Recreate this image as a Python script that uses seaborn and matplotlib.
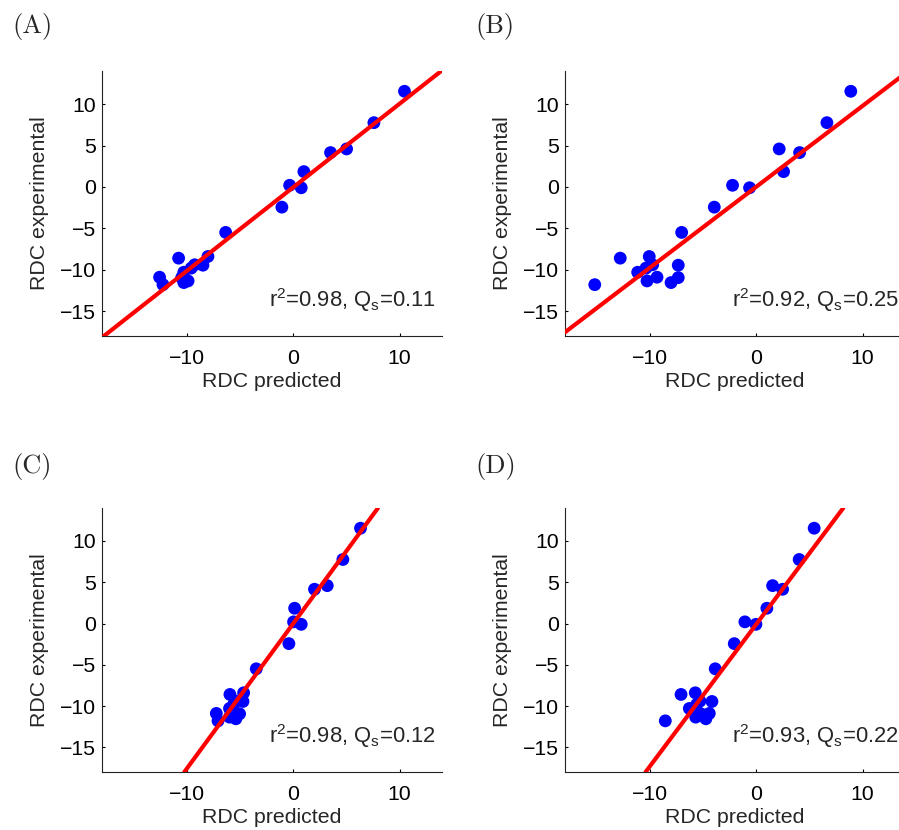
import numpy as np
import pandas as pd
import matplotlib
matplotlib.use("Agg")
import matplotlib.pyplot as plt
import seaborn as sns

# Experimental RDCs (Hz), shared by all four fits
rdc_exp = [11.55, 7.76, 4.59, 4.15, 1.85, 0.2, -0.1, -2.44, -5.49, -8.4,
           -8.6, -9.4, -9.45, -9.8, -10.3, -10.9, -10.95, -11.35, -11.55, -11.8]

# Predicted RDCs for each model
pred_a = [10.47, 7.59, 5.02, 3.51, 1.0, -0.34, 0.75, -1.07, -6.36, -8.03,
          -10.79, -9.28, -8.5, -9.6, -10.3, -12.58, -10.5, -9.9, -10.3, -12.26]
pred_b = [8.9, 6.65, 2.16, 4.08, 2.57, -2.23, -0.63, -3.95, -7.02, -10.07,
          -12.8, -9.75, -7.34, -10.38, -11.16, -9.34, -7.34, -10.28, -8.02, -15.2]
pred_c = [6.33, 4.67, 3.2, 2.0, 0.13, 0.03, 0.75, -0.41, -3.48, -4.67,
          -5.96, -5.4, -4.73, -5.6, -6.0, -7.24, -5.05, -6.0, -5.4, -7.08]
pred_d = [5.45, 4.04, 1.54, 2.48, 1.0, -1.07, -0.03, -2.07, -3.86, -5.74,
          -7.08, -5.3, -4.17, -5.6, -6.3, -4.42, -5.2, -5.7, -4.74, -8.56]

panels = ["(A)", "(B)", "(C)", "(D)"]
fit_slope = [1.008, 0.976, 1.756, 1.72]
fit_intercept = [-0.04, 0.02, 0.0, -0.09]
r_squared = ["0.98", "0.92", "0.98", "0.93"]
q_factor = ["0.11", "0.25", "0.12", "0.22"]

x_ticks = [-10, 0, 10]
y_ticks = [-15, -10, -5, 0, 5, 10]

df = pd.concat(
    [pd.DataFrame({"panel": p, "pred": x, "exp": rdc_exp})
     for p, x in zip(panels, [pred_a, pred_b, pred_c, pred_d])],
    ignore_index=True,
)

sns.set_style("ticks")
plt.rcParams["font.family"] = ["Liberation Sans", "DejaVu Sans"]
plt.rcParams["mathtext.fontset"] = "custom"
plt.rcParams["mathtext.rm"] = "Liberation Sans"
plt.rcParams["mathtext.it"] = "Liberation Sans:italic"
plt.rcParams["mathtext.bf"] = "Liberation Sans:bold"
plt.rcParams["axes.unicode_minus"] = True

FS = 15.3
W, H = 899, 830
fig = plt.figure(figsize=(W / 100, H / 100), dpi=100)

# axes boxes in pixels: left, top, right, bottom
boxes = [(102, 71, 442, 336), (565, 71, 905, 336),
         (102, 508, 442, 772), (565, 508, 905, 772)]
label_pos = [(12, 33), (475, 33), (12, 473), (475, 473)]

for i, p in enumerate(panels):
    l, t, r, b = boxes[i]
    ax = fig.add_axes([l / W, 1 - b / H, (r - l) / W, (b - t) / H])
    sub = df[df["panel"] == p]
    sns.scatterplot(data=sub, x="pred", y="exp", ax=ax, color=(0, 0, 1),
                    s=85, linewidth=0, edgecolor="none", zorder=2)
    ax.axline((0, fit_intercept[i]), slope=fit_slope[i], color=(1, 0, 0),
              lw=3.0, zorder=3)
    ax.set_xlim(-18, 14)
    ax.set_ylim(-18, 14)
    ax.set_xticks(x_ticks)
    ax.set_yticks(y_ticks)
    ax.tick_params(direction="in", length=2.5, width=0.8, labelsize=FS,
                   colors="black")
    ax.tick_params(axis="x", pad=9.5)
    ax.tick_params(axis="y", pad=4.5)
    for side in ["top", "right"]:
        ax.spines[side].set_visible(False)
    for side in ["left", "bottom"]:
        ax.spines[side].set_linewidth(0.8)
        ax.spines[side].set_color("#222222")
    ax.set_xlabel("RDC predicted", fontsize=FS, labelpad=2.5)
    ax.set_ylabel("RDC experimental", fontsize=FS, labelpad=8)
    ax.text(13.4, -14.5,
            r"r$^{2}$=" + r_squared[i] + r", Q$_{\mathrm{s}}$=" + q_factor[i],
            ha="right", va="baseline", fontsize=15.8)
    lx, ly = label_pos[i]
    fig.text(lx / W, 1 - ly / H, p, family="cmr10", fontsize=19,
             ha="left", va="baseline")

fig.savefig("out.png", dpi=100)
